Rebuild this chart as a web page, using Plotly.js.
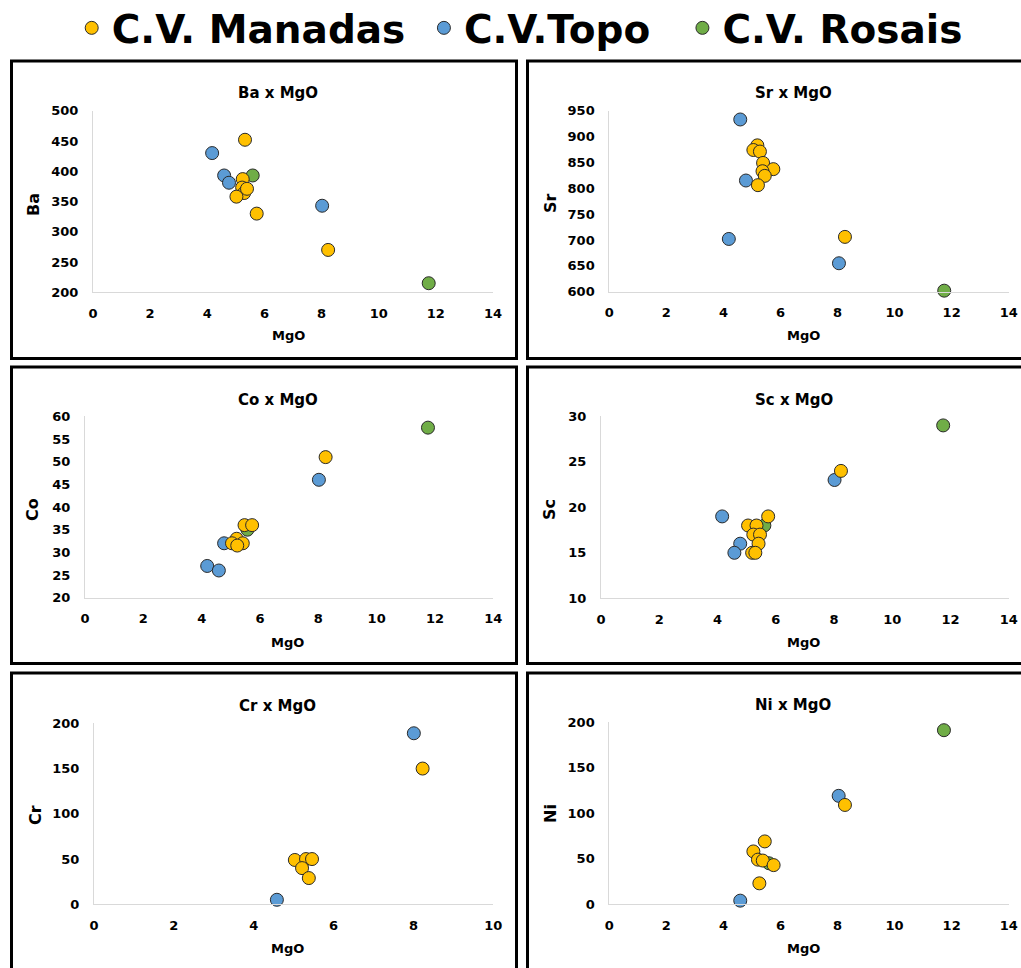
<!DOCTYPE html>
<html>
<head>
<meta charset="utf-8">
<script src="https://cdn.plot.ly/plotly-3.0.1.min.js"></script>
<style>html,body{margin:0;padding:0;background:#fff;}</style>
</head>
<body>
<div id="chart" style="width:1021px;height:968px;"></div>
<script>
// ---- series names ----
const seriesNames = ['C.V. Manadas', 'C.V.Topo', 'C.V. Rosais'];
const seriesColors = ['#FFC000', '#5B9BD5', '#70AD47'];

// ---- Ba x MgO ----
const baManadasMgO = [5.32, 5.24, 5.22, 5.29, 5.39, 5.02, 5.73, 8.23];
const baManadas    = [452, 387, 373, 364, 371, 358, 330, 270];
const baTopoMgO    = [4.17, 4.59, 4.76, 8.02];
const baTopo       = [430, 393, 381, 343];
const baRosaisMgO  = [5.59, 11.75];
const baRosais     = [393, 215];

// ---- Sr x MgO ----
const srManadasMgO = [5.19, 5.05, 5.28, 5.39, 5.75, 5.37, 5.45, 5.21, 8.26];
const srManadas    = [883, 874, 871, 849, 837, 833, 824, 806, 706];
const srTopoMgO    = [4.59, 4.79, 4.19, 8.05];
const srTopo       = [933, 815, 702, 655];
const srRosaisMgO  = [11.74];
const srRosais     = [602];

// ---- Co x MgO ----
const coManadasMgO = [5.47, 5.73, 5.20, 5.04, 5.41, 5.22, 8.25];
const coManadas    = [36, 36, 33, 32, 32, 31.5, 51];
const coTopoMgO    = [4.19, 4.59, 4.77, 8.02];
const coTopo       = [27, 26, 32, 46];
const coRosaisMgO  = [5.57, 11.76];
const coRosais     = [35, 57.5];

// ---- Sc x MgO ----
const scManadasMgO = [5.74, 5.05, 5.34, 5.23, 5.46, 5.41, 5.19, 5.30, 8.24];
const scManadas    = [19, 18, 18, 17, 17, 16, 15, 15, 24];
const scTopoMgO    = [4.16, 4.78, 4.58, 8.02];
const scTopo       = [19, 16, 15, 23];
const scRosaisMgO  = [5.61, 11.75];
const scRosais     = [18, 29];

// ---- Cr x MgO ----
const crManadasMgO = [8.23, 5.03, 5.31, 5.46, 5.21, 5.38];
const crManadas    = [150, 49, 50, 50, 40, 29];
const crTopoMgO    = [4.58, 8.01];
const crTopo       = [5, 189];
const crRosaisMgO  = [];
const crRosais     = [];

// ---- Ni x MgO ----
const niManadasMgO = [5.45, 5.05, 5.21, 5.38, 5.76, 5.26, 8.26];
const niManadas    = [69, 58, 49, 48, 43, 23, 109];
const niTopoMgO    = [4.59, 8.04];
const niTopo       = [4, 119];
const niRosaisMgO  = [5.60, 11.73];
const niRosais     = [45, 191];

// ---- panel definitions ----
const panelTitles = ['Ba x MgO', 'Sr x MgO', 'Co x MgO', 'Sc x MgO', 'Cr x MgO', 'Ni x MgO'];
const yTitles = ['Ba', 'Sr', 'Co', 'Sc', 'Cr', 'Ni'];
const xTitle = 'MgO';
const yRanges = [[200, 500], [600, 950], [20, 60], [10, 30], [0, 200], [0, 200]];
const yDticks = [50, 50, 5, 5, 50, 50];
const xRanges = [[0, 14], [0, 14], [0, 14], [0, 14], [0, 10], [0, 14]];

const panelData = [
  [[baManadasMgO, baManadas], [baTopoMgO, baTopo], [baRosaisMgO, baRosais]],
  [[srManadasMgO, srManadas], [srTopoMgO, srTopo], [srRosaisMgO, srRosais]],
  [[coManadasMgO, coManadas], [coTopoMgO, coTopo], [coRosaisMgO, coRosais]],
  [[scManadasMgO, scManadas], [scTopoMgO, scTopo], [scRosaisMgO, scRosais]],
  [[crManadasMgO, crManadas], [crTopoMgO, crTopo], [crRosaisMgO, crRosais]],
  [[niManadasMgO, niManadas], [niTopoMgO, niTopo], [niRosaisMgO, niRosais]]
];

// ---- geometry (pixels) ----
const W = 1021, H = 968;
const px = v => v / W;
const py = v => 1 - v / H;
const plotBoxes = [ // [x0, x1, yTop, yBottom] in px
  [93, 493, 110.7, 292.3],
  [609.3, 1008.7, 110.7, 291.7],
  [85, 493.3, 416.3, 597.7],
  [601, 1008.7, 416.3, 598.3],
  [94, 493.3, 723.3, 904.3],
  [609.3, 1008.7, 722, 904.3]
];
const titlePos = [[278, 93], [793, 93], [278, 400], [794, 400], [277, 706], [793, 705]];
const xTitlePos = [[288, 336], [803, 336], [287, 642], [803, 642], [287, 948], [803, 948]];
const yTitlePos = [[33, 205], [550, 203], [33, 510], [550, 510], [35, 815], [550, 814]];
const frames = [ // [x0, x1, yTop, yBottom]
  [11.5, 516.5, 61, 358.5],
  [527.5, 1030, 61, 358.5],
  [11.5, 516.5, 367, 663.5],
  [527.5, 1030, 367, 663.5],
  [11.5, 516.5, 673, 975],
  [527.5, 1030, 673, 975]
];

const fontFam = 'DejaVu Sans, Liberation Sans, Arial, sans-serif';
const drawOrder = [2, 1, 0]; // Rosais, Topo, Manadas (Manadas on top)

const traces = [];
const layout = {
  width: W, height: H,
  margin: {l: 0, r: 0, t: 0, b: 0, autoexpand: false},
  paper_bgcolor: '#ffffff',
  plot_bgcolor: 'rgba(0,0,0,0)',
  showlegend: true,
  legend: {
    orientation: 'h',
    xref: 'container', yref: 'container',
    x: 0.509, xanchor: 'center',
    y: py(28), yanchor: 'middle',
    font: {family: fontFam, size: 39, weight: 'bold', color: '#000000'},
    bgcolor: 'rgba(0,0,0,0)'
  },
  annotations: [],
  shapes: []
};

for (let p = 0; p < 6; p++) {
  const suffix = p === 0 ? '' : String(p + 1);
  const b = plotBoxes[p];
  for (const s of drawOrder) {
    traces.push({
      type: 'scatter',
      mode: 'markers',
      name: seriesNames[s] + (s === 0 ? '\u00A0' : (s === 1 ? '\u00A0\u00A0' : '')),
      legendgroup: seriesNames[s],
      legendrank: s + 1,
      showlegend: p === 0,
      x: panelData[p][s][0],
      y: panelData[p][s][1],
      xaxis: 'x' + suffix,
      yaxis: 'y' + suffix,
      cliponaxis: false,
      marker: {size: 13, color: seriesColors[s], line: {color: '#2a2a2a', width: 1}},
      hoverinfo: 'x+y+name'
    });
  }
  layout['xaxis' + suffix] = {
    domain: [px(b[0]), px(b[1])],
    anchor: 'y' + suffix,
    range: xRanges[p],
    dtick: 2, tick0: 0,
    showgrid: false, zeroline: false,
    showline: true, linecolor: '#d9d9d9', linewidth: 1,
    ticks: '', ticklabelstandoff: 9,
    tickfont: {family: fontFam, size: 13, weight: 'bold', color: '#000000'},
    fixedrange: true
  };
  layout['yaxis' + suffix] = {
    domain: [py(b[3]), py(b[2])],
    anchor: 'x' + suffix,
    range: yRanges[p],
    dtick: yDticks[p], tick0: yRanges[p][0],
    showgrid: false, zeroline: false,
    showline: true, linecolor: '#d9d9d9', linewidth: 1,
    ticks: '', ticklabelstandoff: 11,
    tickfont: {family: fontFam, size: 13, weight: 'bold', color: '#000000'},
    fixedrange: true
  };
  layout.annotations.push({
    text: panelTitles[p], xref: 'paper', yref: 'paper',
    x: px(titlePos[p][0]), y: py(titlePos[p][1]), xanchor: 'center', yanchor: 'middle',
    showarrow: false, font: {family: fontFam, size: 15, weight: 'bold', color: '#000000'}
  });
  layout.annotations.push({
    text: xTitle, xref: 'paper', yref: 'paper',
    x: px(xTitlePos[p][0]), y: py(xTitlePos[p][1]), xanchor: 'center', yanchor: 'middle',
    showarrow: false, font: {family: fontFam, size: 13, weight: 'bold', color: '#000000'}
  });
  layout.annotations.push({
    text: yTitles[p], xref: 'paper', yref: 'paper', textangle: -90,
    x: px(yTitlePos[p][0]), y: py(yTitlePos[p][1]), xanchor: 'center', yanchor: 'middle',
    showarrow: false, font: {family: fontFam, size: 16, weight: 'bold', color: '#000000'}
  });
  const f = frames[p];
  layout.shapes.push({
    type: 'rect', xref: 'paper', yref: 'paper',
    x0: px(f[0]), x1: px(f[1]), y0: py(f[3]), y1: py(f[2]),
    line: {color: '#000000', width: 3}, fillcolor: 'rgba(0,0,0,0)', layer: 'below'
  });
}

Plotly.newPlot('chart', traces, layout, {displayModeBar: false, responsive: false});
</script>
</body>
</html>
